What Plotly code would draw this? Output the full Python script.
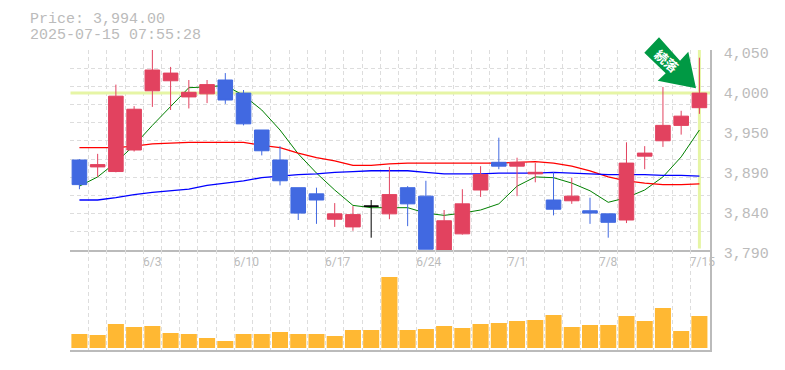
import plotly.graph_objects as go

# ---- data ----
opens  = [3907,3898,3892,3920,3997,4010,3989,3993,4011,3994,3946,3907,3871,3863,3830,3820,3847,3837,3871,3860,3790,3811,3868,3904,3899,3889,3855,3854,3841,3837,3829,3912,3932,3952,3975]
highs  = [3908,3915,4005,3977,4050,4028,4011,4011,4020,3998,3946,3925,3871,3871,3851,3847,3855,3898,3873,3880,3842,3869,3899,3936,3910,3903,3891,3884,3858,3837,3930,3925,4002,3971,4040]
lows   = [3869,3885,3891,3918,3976,3972,3974,3981,3980,3952,3913,3874,3829,3824,3820,3815,3806,3830,3821,3791,3790,3810,3859,3895,3860,3878,3835,3850,3824,3806,3825,3895,3924,3940,3967]
closes = [3875,3901,3990,3973,4024,4020,3995,4005,3985,3954,3919,3880,3838,3855,3837,3836,3847,3862,3850,3791,3828,3850,3888,3899,3904,3891,3843,3860,3838,3826,3903,3916,3952,3964,3994]
ma_short = [3873,3885,3904,3926,3952,3977,4001,4002,4004,3991,3972,3946,3915,3890,3868,3848,3845,3845,3845,3838,3835,3838,3842,3850,3873,3885,3884,3877,3867,3852,3858,3868,3885,3911,3946]
ma_mid   = [3923,3923,3923,3925,3928,3929,3930,3930,3930,3930,3926,3923,3916,3910,3906,3900,3900,3902,3903,3903,3903,3903,3903,3903,3904,3905,3903,3899,3893,3885,3880,3877,3875,3875,3876]
ma_long  = [3855,3855,3858,3862,3865,3867,3869,3874,3877,3880,3884,3886,3888,3889,3891,3892,3893,3893,3893,3891,3889,3889,3889,3890,3890,3890,3891,3890,3889,3888,3888,3888,3887,3887,3886]
volumes  = [14,13,24,21,22,15,14,10,7,14,14,16,14,14,12,18,18,71,18,19,22,20,24,25,27,28,33,21,23,23,32,27,40,17,32]
date_labels = ["6/3","6/10","6/17","6/24","7/1","7/8","7/15"]
date_index  = [4,9,14,19,24,29,34]
price_ticks = [4050,3998,3946,3894,3842,3790]
price_text  = ["4,050","4,000","3,950","3,890","3,840","3,790"]
last_price = 3994
title_lines = ["Price: 3,994.00","2025-07-15 07:55:28"]
badge_text = "続落"

RED, BLUE, BLACK = "#E2425F", "#4169E1", "#000000"
ORANGE, GREY, GRID, LIME = "#FFB833", "#BBBBBB", "#DDDDDD", "#E6F5A5"
FONT = "Liberation Mono"
W, H = 785, 370
L, R, T, MID, B = 70.3, 710, 50, 250, 350
n = len(closes)
xs = list(range(n))
cell = 18.235
xrange = [-0.5, -0.5 + (R - L) / cell]
yrange = [3790, 4050]
vol_range = [-2, 98]
px = lambda v: v / W
py = lambda v: 1 - v / H

normal = [i for i in xs if closes[i] != opens[i]]
pick = lambda a, keep: [a[i] if i in keep else None for i in xs]

fig = go.Figure()
line_kw = dict(x=xs, mode="lines", hoverinfo="skip", showlegend=False)
fig.add_trace(go.Scatter(x=[xrange[0], xrange[1]], y=[last_price, last_price], mode="lines",
                         line=dict(color=LIME, width=3), hoverinfo="skip", showlegend=False))
fig.add_trace(go.Scatter(x=[n - 1, n - 1], y=[yrange[1], yrange[0] + 2], mode="lines",
                         line=dict(color=LIME, width=3), hoverinfo="skip", showlegend=False))
fig.add_trace(go.Scatter(y=ma_short, line=dict(color="#008000", width=1), **line_kw))
fig.add_trace(go.Scatter(y=ma_mid, line=dict(color="#FF0000", width=1.3), **line_kw))
fig.add_trace(go.Scatter(y=ma_long, line=dict(color="#0000FF", width=1.3), **line_kw))

fig.add_trace(go.Candlestick(
    x=xs, open=pick(opens, normal), high=pick(highs, normal), low=pick(lows, normal), close=pick(closes, normal),
    increasing=dict(line=dict(color=RED, width=1), fillcolor=RED),
    decreasing=dict(line=dict(color=BLUE, width=1), fillcolor=BLUE),
    xaxis="x3", yaxis="y3", showlegend=False))
doji = [i for i in xs if closes[i] == opens[i]]
fig.add_trace(go.Candlestick(
    x=xs, open=pick(opens, doji), high=pick(highs, doji), low=pick(lows, doji), close=pick(closes, doji),
    increasing=dict(line=dict(color=BLACK, width=1), fillcolor=BLACK),
    decreasing=dict(line=dict(color=BLACK, width=1), fillcolor=BLACK),
    xaxis="x3", yaxis="y3", showlegend=False))
fig.add_trace(go.Bar(x=xs, y=volumes, width=0.88, marker=dict(color=ORANGE, line=dict(width=0)),
                     xaxis="x2", yaxis="y2", showlegend=False, hoverinfo="skip"))

# badge drawn on a hidden full-page axis pair so that it sits above the grid and may leave the plot area
arrow = [(659, 37.3), (644.3, 52.7), (665.7, 73.3), (657.7, 80.7), (696, 88.3), (688.3, 51.7), (680, 60.7), (659, 37.3)]
fig.add_trace(go.Scatter(x=[a for a, _ in arrow], y=[b for _, b in arrow], mode="lines", fill="toself",
                         fillcolor="#009944", line=dict(width=0, color="#009944"),
                         xaxis="x4", yaxis="y4", hoverinfo="skip", showlegend=False))

grid_x = [xrange[0] + k for k in range(n)]
grid_y = [yrange[1] - k * (yrange[1] - yrange[0]) / 11 for k in range(12)]
minor_x = dict(tickvals=grid_x, showgrid=True, gridcolor=GRID, griddash="4px,3px", gridwidth=1, ticklen=0)
label_pos = [i - 0.5 + (len(t) * 6 / 2) / cell for i, t in zip(date_index, date_labels)]
dom_x = [px(L), px(R)]
dom_p = [py(MID), py(T)]
dom_v = [py(B), py(MID)]

fig.update_layout(
    width=W, height=H, autosize=False,
    margin=dict(l=0, r=0, t=0, b=0, pad=0, autoexpand=False),
    paper_bgcolor="white", plot_bgcolor="rgba(0,0,0,0)",
    showlegend=False, boxgap=0.2, boxgroupgap=0, bargap=0.12, hovermode=False,
    font=dict(family=FONT, color=GREY),
    xaxis=dict(domain=dom_x, range=xrange, anchor="y", showgrid=False, zeroline=False,
               showline=True, linecolor=GREY, linewidth=1.5,
               tickmode="array", tickvals=label_pos, ticktext=date_labels,
               ticks="", tickfont=dict(family="Roboto", size=12, color=GREY), minor=minor_x,
               rangeslider=dict(visible=False)),
    yaxis=dict(domain=dom_p, range=yrange, anchor="x", side="right", showgrid=False, zeroline=False,
               showline=True, linecolor=GREY, linewidth=1.5,
               tickmode="array", tickvals=price_ticks, ticktext=price_text,
               ticks="outside", ticklen=9, tickcolor="rgba(0,0,0,0)",
               ticklabelshift=3,
               tickfont=dict(family=FONT, size=15, color=GREY),
               minor=dict(tickvals=grid_y, showgrid=True, gridcolor=GRID, griddash="4px,3px", gridwidth=1, ticklen=0)),
    xaxis2=dict(domain=dom_x, range=xrange, anchor="y2", showgrid=False, zeroline=False,
                showline=True, linecolor=GREY, linewidth=1.5, showticklabels=False, ticks="",
                minor=minor_x),
    yaxis2=dict(domain=dom_v, range=vol_range, anchor="x2", side="right", showgrid=False, zeroline=False,
                showline=True, linecolor=GREY, linewidth=1.5, showticklabels=False, ticks=""),
    xaxis3=dict(domain=dom_x, range=xrange, overlaying="x", anchor="y3", visible=False,
                rangeslider=dict(visible=False)),
    yaxis3=dict(domain=dom_p, range=yrange, overlaying="y", anchor="x3", visible=False),
    xaxis4=dict(domain=[0, 1], range=[0, W], anchor="y4", visible=False),
    yaxis4=dict(domain=[0, 1], range=[H, 0], anchor="x4", visible=False),
)

for text, top in zip(title_lines, (19.5, 35)):
    fig.add_annotation(text=text, xref="paper", yref="paper", x=px(28), y=py(top),
                       xanchor="left", yanchor="middle", showarrow=False,
                       font=dict(family=FONT, size=15, color=GREY))

fig.add_annotation(text="<b>" + badge_text + "</b>", xref="x4", yref="y4", x=666.5, y=60,
                   showarrow=False, textangle=41,
                   font=dict(family="Noto Sans CJK JP", size=13, color="#FFFFFF"))

fig.write_html("out.html", post_script="document.body.style.margin='0';", config=dict(displayModeBar=False))
